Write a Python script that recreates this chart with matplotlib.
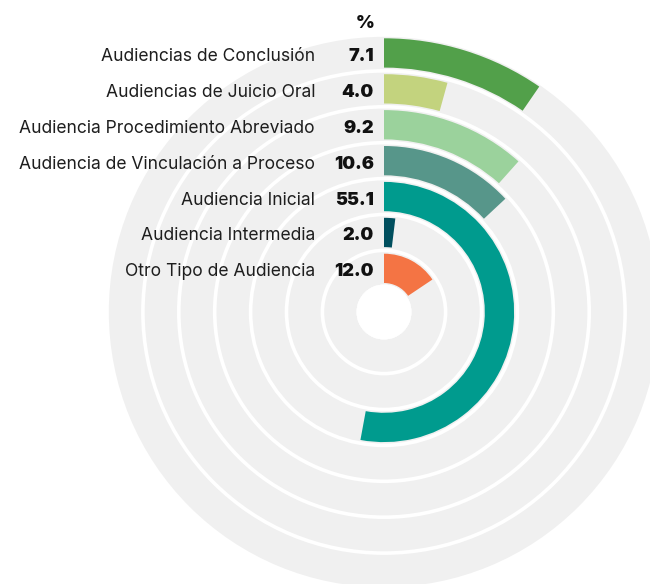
import numpy as np
import matplotlib
matplotlib.use("Agg")
import matplotlib.pyplot as plt
from matplotlib.transforms import offset_copy

# ---- data (outermost ring first) ----
categories = [
    "Audiencias de Conclusión",
    "Audiencias de Juicio Oral",
    "Audiencia Procedimiento Abreviado",
    "Audiencia de Vinculación a Proceso",
    "Audiencia Inicial",
    "Audiencia Intermedia",
    "Otro Tipo de Audiencia",
]
pct_labels = [7.1, 4.0, 9.2, 10.6, 55.1, 2.0, 12.0]
# arc length of each bar, in % of a full turn
arc_share = [9.6, 4.3, 11.6, 13.05, 52.9, 1.92, 15.6]
colors = ["#52a04a", "#c3d37e", "#9bd29c", "#57968a", "#009b8e", "#004f5e", "#f47444"]

# ---- geometry (radial units = pixels at dpi 100) ----
W, H, DPI = 650, 584, 100
cx, cy = 384, 312
hole = 29.0
step = 35.9
thick = 29.3
r_max = 276.0

fig = plt.figure(figsize=(W / DPI, H / DPI), dpi=DPI)
fig.patch.set_facecolor("white")
ax = fig.add_axes([(cx - r_max) / W, (H - cy - r_max) / H, 2 * r_max / W, 2 * r_max / H],
                  projection="polar")
ax.set_theta_zero_location("N")
ax.set_theta_direction(-1)
ax.set_ylim(0, r_max)
ax.set_axis_off()

n = len(categories)
for i in range(n):
    k = n - 1 - i  # ring index from the inside
    r_in = hole + k * step
    # gray track
    ax.bar(0, thick + 3.0, width=2 * np.pi, bottom=r_in - 1.5, align="edge",
           color="#f0f0f0", edgecolor="none", zorder=1)
    # value bar
    ax.bar(0, thick, width=arc_share[i] / 100 * 2 * np.pi, bottom=r_in, align="edge",
           color=colors[i], edgecolor="none", zorder=2)
    r_mid = r_in + thick / 2
    tr_lab = offset_copy(ax.transData, fig=fig, x=-69, y=-3.5, units="dots")
    tr_val = offset_copy(ax.transData, fig=fig, x=-10, y=-3.5, units="dots")
    ax.text(0, r_mid, categories[i], transform=tr_lab, ha="right", va="center",
            fontsize=12.6, family="Inter", color="#1e1e1e", clip_on=False)
    ax.text(0, r_mid, f"{pct_labels[i]:.1f}", transform=tr_val, ha="right", va="center",
            fontsize=13, family="Inter", fontweight="black", color="#111111", clip_on=False)

# white hole in the center
ax.bar(0, hole - 1.5, width=2 * np.pi, bottom=0, align="edge", color="white",
       edgecolor="none", zorder=3)

tr_pct = offset_copy(ax.transData, fig=fig, x=-19, y=15, units="dots")
ax.text(0, r_max - 2, "%", transform=tr_pct, ha="center", va="center",
        fontsize=13, family="Inter", fontweight="black", color="#111111", clip_on=False)

fig.savefig("out.png", dpi=DPI, facecolor="white")
